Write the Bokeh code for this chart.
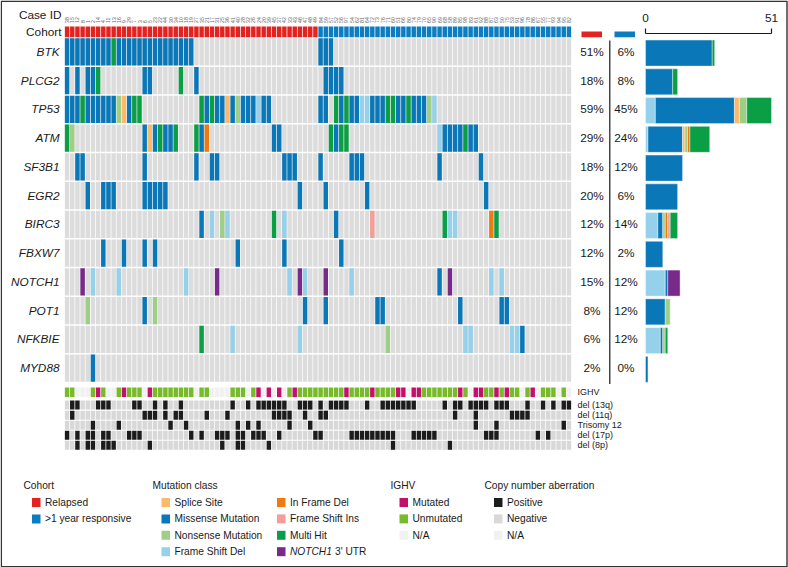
from math import pi
from bokeh.plotting import figure
from bokeh.models import Range1d, ColumnDataSource
from bokeh.core.properties import value
from bokeh.embed import file_html
from bokeh.resources import INLINE

FONT = "Liberation Sans"

# ------------------------------------------------------------------ data
n_relapsed = 49
n_responsive = 49

case_ids = ["38", "15", "12", "8", "1", "2", "14", "4", "11", "13", "16", "9", "29", "7",
            "3", "6", "5", "23", "22", "44", "30", "34", "10", "18", "19", "27", "35", "21",
            "17", "31", "25", "36", "41", "40", "28", "32", "26", "24", "20", "39", "45",
            "37", "42", "33", "43", "46", "47", "48", "49",
            "84", "59", "57", "52", "56", "97", "54", "62", "81", "64", "72", "73", "76",
            "71", "60", "51", "66", "80", "74", "79", "70", "65", "90", "69", "68", "58",
            "89", "85", "98", "83", "61", "92", "88", "87", "63", "50", "75", "53", "91",
            "96", "78", "86", "67", "55", "77", "93", "94", "95", "82"]

genes = ["BTK", "PLCG2", "TP53", "ATM", "SF3B1", "EGR2", "BIRC3", "FBXW7",
         "NOTCH1", "POT1", "NFKBIE", "MYD88"]
pct_relapsed = ["51%", "18%", "59%", "29%", "18%", "20%", "12%", "12%", "15%", "8%", "6%", "2%"]
pct_responsive = ["6%", "8%", "45%", "24%", "12%", "6%", "14%", "2%", "12%", "12%", "12%", "0%"]

# column:class  (M missense, S splice, N nonsense, D frame shift del,
#                I in frame del, F frame shift ins, H multi hit, U NOTCH1 3'UTR)
mutations = {
    "BTK": "0-8:M 9:H 10-24:M 49-51:M",
    "PLCG2": "0:M 2:M 4-5:M 6:H 15-16:M 22:H 25:M 50-53:M",
    "TP53": "0-2:M 3:H 4-9:M 10:N 11:S 12:M 13-14:H 26:H 27:M 28:H 29-30:M 31:S 32:M 33:N "
            "34-36:M 37:D 38-39:M 49-50:M 52:H 53:M 54:H 55-56:M 57-58:D 59-61:M 62-63:H "
            "64-65:M 66:H 67-69:M 70:N 71:D",
    "ATM": "0:H 1:N 15:M 16:S 17:M 18:H 19-20:M 21:H 25:H 26:M 27:I 40-41:M 51:H 52:M "
           "53-54:H 72:D 73-76:M 77:H 78-79:M",
    "SF3B1": "2-3:M 15:M 25:M 28-29:M 42-44:M 49:M 55-57:M 72:M 80:M",
    "EGR2": "4:M 7-9:M 15-19:M 45:M 50:M 58:M 81:M",
    "BIRC3": "26:M 28:D 30:N 31:D 40:H 42:D 52:M 59:F 73:H 74-75:D 82:I 83:H",
    "FBXW7": "7:M 11:M 15:M 17:M 33:M 42:M 53:M",
    "NOTCH1": "3:U 5:D 10:D 23:D 29:U 43:D 45:U 46:D 50:U 55:D 72:M 74:U 82:D 84:D",
    "POT1": "4:N 15:M 17:N 46:M 50:M 60-61:M 76:M 84-85:M",
    "NFKBIE": "26:H 32:D 45:D 62:N 77-78:D 86-87:D 88:M",
    "MYD88": "5:M",
}

ighv = ("0-1:u 2-4:n 5:u 6:m 7:u 8-9:n 10:u 11:m 12-14:u 15:n 16:m 17-24:u 25:n 26-27:u "
        "28-31:n 32-34:u 35:n 36:u 37:m 38:n 39:m 40:n 41:m 42:n 43:u 44:m 45-53:u 54:m "
        "55-58:u 59:m 60-63:u 64-65:m 66:n 67-68:m 69-75:u 76:m 77:u 78:n 79-80:m 81-82:u "
        "83:m 84:u 85:m 86-87:u 88:n 89:u 90:m 91:n 92-94:u 95:n 96:u 97:n")

cna_rows = ["del (13q)", "del (11q)", "Trisomy 12", "del (17p)", "del (8p)"]
cna = {
    "del (13q)": "1-2:p 6-8:p 13-14:p 17:p 19:p 22:p 32:p 35:p 37-42:p 45-47:p 49:p 51-54:p "
                 "58:p 61-67:p 73:p 75-76:p 78-81:p 83-85:p 89:p 92:p 94:p 96-97:p",
    "del (11q)": "1:p 15-17:p 19:p 21-22:p 27:p 31:p 40-43:p 46:p 49-50:p 75:p 79:p 86-89:p",
    "Trisomy 12": "5:p 10:p 20:p 23:p 33:p 35:p 37:p 43:p 47:p 79:p 83:p 96:p",
    "del (17p)": "0:p 2:p 4-5:p 7-8:p 12-14:p 24:p 26:p 29-31:p 33-34:p 36-38:p 41:p 48-49:p "
                 "55-63:p 67-71:p 81-83:p 91:p 93:p",
    "del (8p)": "2:p 4-5:p 7-9:p 16:p 30:p 33-34:p 39:p 63:p 74:p",
}

mut_classes = [("S", "Splice Site", "#fdb96b"),
               ("M", "Missense Mutation", "#0a77b8"),
               ("N", "Nonsense Mutation", "#9fcf86"),
               ("D", "Frame Shift Del", "#95d1ea"),
               ("I", "In Frame Del", "#ef7a0f"),
               ("F", "Frame Shift Ins", "#f59d97"),
               ("H", "Multi Hit", "#0b9f45"),
               ("U", "NOTCH1 3' UTR", "#772a8a")]
bar_order = ["D", "M", "S", "N", "I", "F", "H", "U"]

cohort_labels = ["Relapsed", ">1 year responsive"]
cohort_colors = ["#e42320", "#0b7dc0"]
ighv_classes = [("m", "Mutated", "#c4106b"), ("u", "Unmutated", "#77bb2b"), ("n", "N/A", "#f1f1f1")]
cna_classes = [("p", "Positive", "#1c1c1c"), ("g", "Negative", "#d8d8d8"), ("n", "N/A", "#f1f1f1")]
EMPTY = "#dcdcdc"

# ------------------------------------------------------------------ helpers
N = n_relapsed + n_responsive


def expand(spec, default):
    out = [default] * N
    for tok in spec.split():
        r, c = tok.split(":")
        a, _, b = r.partition("-")
        for k in range(int(a), int(b or a) + 1):
            out[k] = c
    return out


mut_color = {c: col for c, _, col in mut_classes}

# ------------------------------------------------------------------ layout (page px)
W, H = 788, 567
GX0, GX1 = 64.0, 571.0                   # grid
CW = (GX1 - GX0) / N
BX0, BX1 = 645.0, 771.0                  # bar panel
COH_Y, COH_H = 31.3, 10.8
GT0, GP, GH = 37.8, 28.75, 27.2          # gene rows
IG_Y, IG_H = 391.8, 9.6
CT0, CP, CH = 404.6, 10.05, 9.0          # copy-number rows
CELL = 0.86

totals = []
for g in genes:
    row = expand(mutations[g], ".")
    totals.append(sum(1 for c in row if c != "."))
xmax = max(totals)
BS = (BX1 - BX0) / xmax

p = figure(width=W, height=H, x_range=Range1d(0, W), y_range=Range1d(H, 0),
           x_axis_type=None, y_axis_type=None, output_backend="svg",
           toolbar_location=None, min_border=0)
p.outline_line_color = None
p.grid.visible = False
p.background_fill_color = "white"
p.extra_x_ranges = {
    "col": Range1d((0 - GX0) / CW, (W - GX0) / CW),
    "bar": Range1d((0 - BX0) / BS, (W - BX0) / BS),
}

# frame around the picture
p.quad(left=[0.8], right=[W - 1.5], top=[0.8], bottom=[H - 0.8], fill_color=None,
       line_color="#333333", line_width=1.4)


def txt(x, y, t, size, align="left", style="normal", color="#1a1a1a", x_range_name="default",
        baseline="middle", angle=0):
    p.text(x=x if isinstance(x, list) else [x], y=y if isinstance(y, list) else [y],
           text=t if isinstance(t, list) else [t],
           text_font=value(FONT), text_font_size=value(size), text_align=align,
           text_baseline=baseline, text_font_style=style, text_color=color,
           angle=angle, x_range_name=x_range_name)


def cells(xs, y, h, colors):
    src = ColumnDataSource(dict(l=[k + (1 - CELL) / 2 for k in xs], r=[k + (1 + CELL) / 2 for k in xs],
                                t=[y - h / 2] * len(xs), b=[y + h / 2] * len(xs), c=colors))
    p.quad(left="l", right="r", top="t", bottom="b", fill_color="c", line_color=None,
           source=src, x_range_name="col")


cols = list(range(N))

# case ids
txt([k + 0.5 for k in cols], [22.5] * N, case_ids[:N], "5.2px", angle=pi / 2,
    color="#666666", x_range_name="col")
txt(61, 14.5, "Case ID", "11.8px", align="right")

# cohort row
txt(61, COH_Y, "Cohort", "11.8px", align="right")
cells(cols, COH_Y, COH_H,
      [cohort_colors[0]] * n_relapsed + [cohort_colors[1]] * n_responsive)

# gene rows
for i, g in enumerate(genes):
    yc = GT0 + GP * i + GH / 2
    txt(59, yc, g, "11.8px", align="right", style="italic")
    cells(cols, yc, GH, [EMPTY] * N)
    row = expand(mutations[g], ".")
    ks = [k for k in cols if row[k] != "."]
    cells(ks, yc, GH, [mut_color[row[k]] for k in ks])
    # percentages
    txt(591.5, yc, pct_relapsed[i], "11.8px", align="center")
    txt(625.5, yc, pct_responsive[i], "11.8px", align="center")
    # stacked bar
    left = 0
    for code in bar_order:
        n = sum(1 for c in row if c == code)
        if n:
            p.quad(left=[left], right=[left + n], top=[yc + 1.2 - 13], bottom=[yc + 1.2 + 13],
                   fill_color=mut_color[code], line_color="white", line_width=0.4,
                   x_range_name="bar")
            left += n

# divider and mini cohort keys
p.segment(x0=[609.3], y0=[40], x1=[609.3], y1=[383.5], line_color="#1a1a1a", line_width=1.2)
p.quad(left=[581, 614], right=[601.5, 634.5], top=[31, 31], bottom=[36.8, 36.8],
       fill_color=cohort_colors, line_color=None)

# bar axis bracket
p.segment(x0=[0, 0, xmax], y0=[33, 28, 28], x1=[xmax, 0, xmax], y1=[33, 33, 33],
          line_color="#1a1a1a", line_width=1.2, x_range_name="bar")
txt([0, xmax], [17, 17], ["0", str(xmax)], "11.8px", align="center", x_range_name="bar")

# IGHV row
ig = expand(ighv, "n")
ig_col = {c: col for c, _, col in ighv_classes}
cells(cols, IG_Y, IG_H, [ig_col[c] for c in ig])
txt(577, IG_Y, "IGHV", "9px")

# CNA rows
cn_col = {c: col for c, _, col in cna_classes}
for j, name in enumerate(cna_rows):
    yc = CT0 + CP * j
    row = expand(cna[name], "g")
    cells(cols, yc, CH, [cn_col[c] for c in row])
    txt(577, yc, name, "9px")

# ------------------------------------------------------------------ legend
LY0, LP = 502.0, 16.4
SW, SH = 8.5, 9.0
LFS = "10.2px"


def legend_block(x_sw, items):
    for r, (lab, colr) in enumerate(items):
        y = LY0 + LP * r
        p.quad(left=[x_sw], right=[x_sw + SW], top=[y - SH / 2], bottom=[y + SH / 2],
               fill_color=colr, line_color=None)
        if lab.startswith("NOTCH1 "):
            txt(x_sw + 13, y, "NOTCH1", LFS, style="italic")
            txt(x_sw + 13 + 45, y, lab[7:], LFS)
        else:
            txt(x_sw + 13, y, lab, LFS)


txt(23, 485, "Cohort", LFS)
legend_block(31.5, list(zip(cohort_labels, cohort_colors)))
txt(152, 485, "Mutation class", LFS)
legend_block(161, [(l, c) for _, l, c in mut_classes[:4]])
legend_block(276.5, [(l, c) for _, l, c in mut_classes[4:]])
txt(390, 485, "IGHV", LFS)
legend_block(399, [(l, c) for _, l, c in ighv_classes])
txt(484, 485, "Copy number aberration", LFS)
legend_block(493.5, [(l, c) for _, l, c in cna_classes])

open("out.html", "w").write(file_html(p, INLINE))
